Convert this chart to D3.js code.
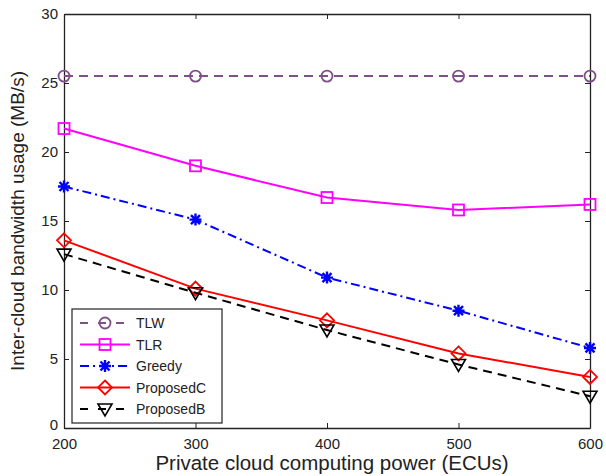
<!DOCTYPE html>
<html>
<head>
<meta charset="utf-8">
<script src="https://cdn.jsdelivr.net/npm/d3@7"></script>
<style>
body { margin: 0; background: #fff; }
text { font-family: "Liberation Sans", Arial, sans-serif; fill: #222; }
</style>
</head>
<body>
<svg id="chart" width="606" height="476"></svg>
<script>
// data
const power = [200, 300, 400, 500, 600];
const tlw = [25.5, 25.5, 25.5, 25.5, 25.5];
const tlr = [21.7, 19.0, 16.7, 15.8, 16.2];
const greedy = [17.5, 15.1, 10.9, 8.5, 5.8];
const proposedC = [13.6, 10.1, 7.8, 5.4, 3.7];
const proposedB = [12.6, 9.8, 7.1, 4.6, 2.3];
const yTicks = [0, 5, 10, 15, 20, 25, 30];

const series = [
  { name: 'TLW', values: tlw, color: '#7f4f88', dash: '9,6', marker: 'circle' },
  { name: 'TLR', values: tlr, color: '#ff00ff', dash: null, marker: 'square' },
  { name: 'Greedy', values: greedy, color: '#0000ff', dash: '9,4,2,4', marker: 'star' },
  { name: 'ProposedC', values: proposedC, color: '#ff0000', dash: null, marker: 'diamond' },
  { name: 'ProposedB', values: proposedB, color: '#000000', dash: '9,6', marker: 'triangle' }
];

const svg = d3.select('#chart');
const plotL = 64, plotR = 590, plotT = 14, plotB = 428;

const x = d3.scaleLinear().domain([200, 600]).range([plotL, plotR]);
const y = d3.scaleLinear().domain([0, 30]).range([plotB, plotT]);

// axes with ticks on every side (matlab style box)
svg.append('g').attr('transform', `translate(0,${plotB})`)
  .call(d3.axisBottom(x).tickValues(power).tickSizeInner(-5).tickSizeOuter(0).tickPadding(10));
svg.append('g').attr('transform', `translate(0,${plotT})`)
  .call(d3.axisTop(x).tickValues(power).tickSizeInner(-5).tickSizeOuter(0).tickFormat(''));
const yAxisG = svg.append('g').attr('transform', `translate(${plotL},0)`)
  .call(d3.axisLeft(y).tickValues(yTicks).tickSizeInner(-5).tickSizeOuter(0).tickPadding(6));
svg.append('g').attr('transform', `translate(${plotR},0)`)
  .call(d3.axisRight(y).tickValues(yTicks).tickSizeInner(-5).tickSizeOuter(0).tickFormat(''));

svg.selectAll('.domain').attr('stroke', '#222').attr('stroke-width', 1.3);
svg.selectAll('.tick line').attr('stroke', '#222');
svg.selectAll('.tick text').style('font-size', '15px').attr('fill', '#222');
// the "0" sits just above the "200" like in the figure
yAxisG.selectAll('.tick text').filter(d => d === 0).attr('dy', '0.1em');

// axis labels
svg.append('text')
  .attr('x', 332)
  .attr('y', 470)
  .attr('text-anchor', 'middle')
  .style('font-size', '20.5px')
  .text('Private cloud computing power (ECUs)');

svg.append('text')
  .attr('transform', `translate(24,${(plotT + plotB) / 2}) rotate(-90)`)
  .attr('text-anchor', 'middle')
  .style('font-size', '19px')
  .text('Inter-cloud bandwidth usage (MB/s)');

function drawMarker(g, type, cx, cy, color) {
  if (type === 'circle') {
    g.append('circle').attr('cx', cx).attr('cy', cy).attr('r', 5.5)
      .attr('fill', 'none').attr('stroke', color).attr('stroke-width', 1.8);
  } else if (type === 'square') {
    g.append('rect').attr('x', cx - 5.5).attr('y', cy - 5.5).attr('width', 11).attr('height', 11)
      .attr('fill', 'none').attr('stroke', color).attr('stroke-width', 1.8);
  } else if (type === 'diamond') {
    g.append('path').attr('d', `M${cx},${cy - 7}L${cx + 7},${cy}L${cx},${cy + 7}L${cx - 7},${cy}Z`)
      .attr('fill', 'none').attr('stroke', color).attr('stroke-width', 1.8);
  } else if (type === 'triangle') {
    g.append('path').attr('d', `M${cx - 7},${cy - 5}L${cx + 7},${cy - 5}L${cx},${cy + 7}Z`)
      .attr('fill', 'none').attr('stroke', color).attr('stroke-width', 1.6);
  } else if (type === 'star') {
    const s = 6, d = 4.5;
    g.append('path')
      .attr('d', `M${cx - s},${cy}L${cx + s},${cy}M${cx},${cy - s}L${cx},${cy + s}` +
        `M${cx - d},${cy - d}L${cx + d},${cy + d}M${cx - d},${cy + d}L${cx + d},${cy - d}`)
      .attr('stroke', color).attr('stroke-width', 2.4);
  }
}

const line = d3.line().x((d, i) => x(power[i])).y(d => y(d));

series.forEach(s => {
  svg.append('path')
    .datum(s.values)
    .attr('d', line)
    .attr('fill', 'none')
    .attr('stroke', s.color)
    .attr('stroke-width', 2)
    .attr('stroke-dasharray', s.dash);
  const g = svg.append('g');
  s.values.forEach((v, i) => drawMarker(g, s.marker, x(power[i]), y(v), s.color));
});

// legend
const lg = svg.append('g');
lg.append('rect').attr('x', 72).attr('y', 309).attr('width', 150).attr('height', 114)
  .attr('fill', '#fff').attr('stroke', '#222').attr('stroke-width', 1.2);

series.forEach((s, i) => {
  const ly = 323 + i * 21.5;
  lg.append('line').attr('x1', 80).attr('x2', 130).attr('y1', ly).attr('y2', ly)
    .attr('stroke', s.color).attr('stroke-width', 2)
    .attr('stroke-dasharray', s.dash === '9,6' ? '8,10' : s.dash);
  drawMarker(lg, s.marker, 105, ly, s.color);
  lg.append('text').attr('x', 136).attr('y', ly + 5)
    .style('font-size', '14px').text(s.name);
});
</script>
</body>
</html>
